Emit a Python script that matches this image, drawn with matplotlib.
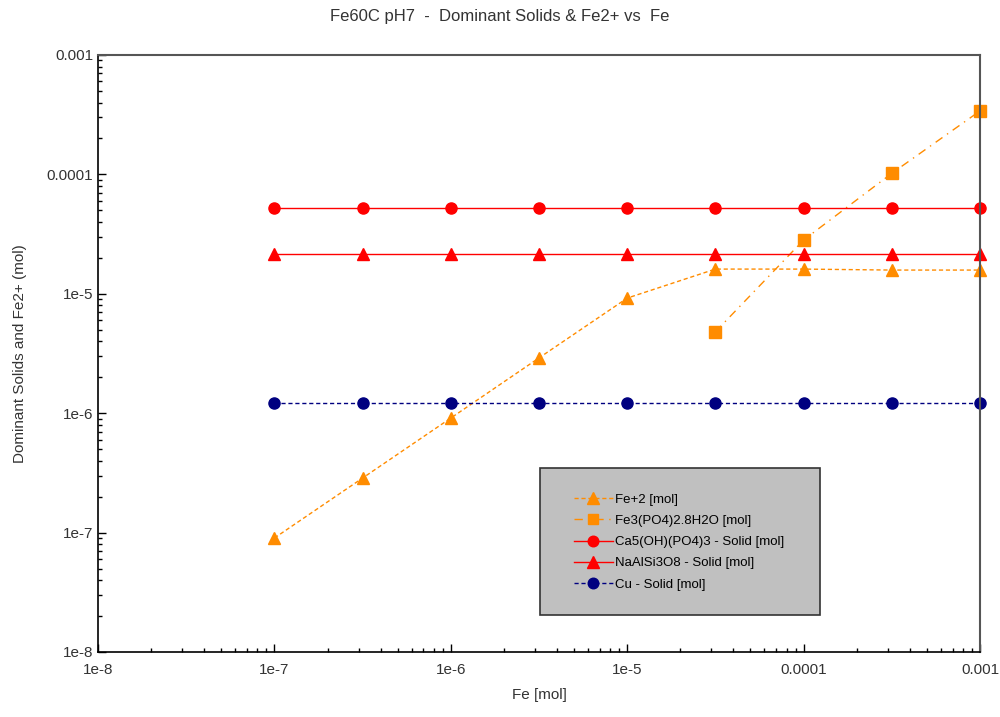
import matplotlib
matplotlib.use("Agg")
import matplotlib.pyplot as plt
from matplotlib.patches import Rectangle
from matplotlib.ticker import LogLocator, FuncFormatter

plt.rcParams["font.family"] = ["Liberation Sans", "DejaVu Sans"]

# ---- data -----------------------------------------------------------------
fe = [1e-7, 3.16e-7, 1e-6, 3.16e-6, 1e-5, 3.16e-5, 1e-4, 3.16e-4, 1e-3]
fe2 = [9.0e-8, 2.86e-7, 9.1e-7, 2.9e-6, 9.2e-6, 1.61e-5, 1.61e-5, 1.58e-5, 1.58e-5]
fe3po4_x = [3.16e-5, 1e-4, 3.16e-4, 1e-3]
fe3po4 = [4.8e-6, 2.82e-5, 1.02e-4, 3.4e-4]
ca5 = [5.25e-5] * len(fe)
naalsi = [2.15e-5] * len(fe)
cu = [1.22e-6] * len(fe)

labels = ["Fe+2 [mol]", "Fe3(PO4)2.8H2O [mol]", "Ca5(OH)(PO4)3 - Solid [mol]",
          "NaAlSi3O8 - Solid [mol]", "Cu - Solid [mol]"]
x_ticks = [1e-8, 1e-7, 1e-6, 1e-5, 1e-4, 1e-3]
x_ticklabels = ["1e-8", "1e-7", "1e-6", "1e-5", "0.0001", "0.001"]
y_ticks = [1e-8, 1e-7, 1e-6, 1e-5, 1e-4, 1e-3]
y_ticklabels = ["1e-8", "1e-7", "1e-6", "1e-5", "0.0001", "0.001"]

orange = "#FF8C00"
red = "#FF0000"
navy = "#000080"

fig = plt.figure(figsize=(10, 7.17), dpi=100)
ax = fig.add_axes([0.098, 0.0907, 0.882, 0.8326])

h1, = ax.plot(fe, fe2, color=orange, ls=(0, (3, 2)), lw=1, marker="^", ms=9, label=labels[0])
h2, = ax.plot(fe3po4_x, fe3po4, color=orange, ls=(0, (6, 4, 1, 4)), lw=1, marker="s", ms=8,
              label=labels[1])
h3, = ax.plot(fe, ca5, color=red, lw=1, marker="o", ms=8, label=labels[2])
h4, = ax.plot(fe, naalsi, color=red, lw=1, marker="^", ms=9, label=labels[3])
h5, = ax.plot(fe, cu, color=navy, ls=(0, (3, 2)), lw=1, marker="o", ms=8, label=labels[4])
for h in (h1, h2, h3, h4, h5):
    h.set_clip_on(False)

ax.set_xscale("log")
ax.set_yscale("log")
ax.set_xlim(1e-8, 1e-3)
ax.set_ylim(1e-8, 1e-3)
ax.set_xticks(x_ticks)
ax.set_xticklabels(x_ticklabels)
ax.set_yticks(y_ticks)
ax.set_yticklabels(y_ticklabels)
ax.xaxis.set_minor_locator(LogLocator(base=10, subs=range(2, 10), numticks=20))
ax.yaxis.set_minor_locator(LogLocator(base=10, subs=range(2, 10), numticks=20))
ax.xaxis.set_minor_formatter(FuncFormatter(lambda v, p: ""))
ax.yaxis.set_minor_formatter(FuncFormatter(lambda v, p: ""))
ax.tick_params(which="major", direction="in", length=6, width=1, labelsize=11, colors="black",
               labelcolor="#333333", top=False, right=False)
ax.tick_params(which="minor", direction="in", length=3, width=1, top=False, right=False)
ax.tick_params(axis="x", pad=8)

for s in ("left", "bottom"):
    ax.spines[s].set_color("black")
    ax.spines[s].set_linewidth(1.2)
for s in ("top", "right"):
    ax.spines[s].set_color("#555555")
    ax.spines[s].set_linewidth(1.5)

ax.set_xlabel("Fe [mol]", fontsize=11, color="#333333", labelpad=8)
ax.set_ylabel("Dominant Solids and Fe2+ (mol)", fontsize=11, color="#333333", labelpad=14)
fig.text(0.5, 0.977, "Fe60C pH7  -  Dominant Solids & Fe2+ vs  Fe", ha="center", va="center",
         fontsize=12, color="#333333")

# legend box
box = Rectangle((0.540, 1 - 615 / 717), 0.280, 147 / 717, transform=fig.transFigure,
                facecolor="#C0C0C0", edgecolor="#333333", lw=1.2, zorder=5)
fig.patches.append(box)
leg = fig.legend(handles=[h1, h2, h3, h4, h5], loc="upper left",
                 bbox_to_anchor=(0.567, 1 - 487 / 717), frameon=False, fontsize=9.5,
                 handlelength=3.0, handletextpad=0.15, labelspacing=0.68, borderpad=0,
                 markerscale=0.95)
leg.set_zorder(6)

fig.savefig("out.png", dpi=100)
